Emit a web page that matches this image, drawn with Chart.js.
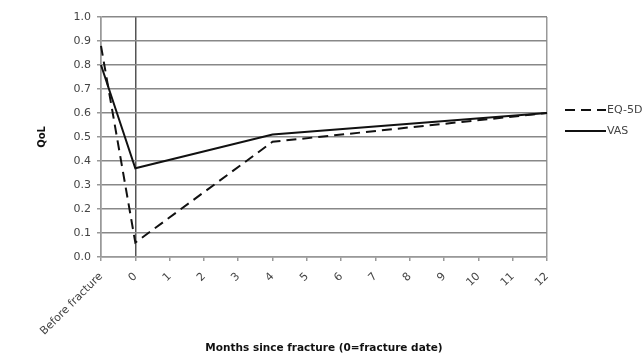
<!DOCTYPE html>
<html>
<head>
<meta charset="utf-8">
<script src="https://cdn.jsdelivr.net/npm/chart.js@4.4.1/dist/chart.umd.min.js"></script>
<style>
  html, body { margin: 0; padding: 0; background: #fff; }
  #wrap { width: 644px; height: 357px; }
</style>
</head>
<body>
<div id="wrap"><canvas id="qolChart" width="644" height="357"></canvas></div>
<script>
// categories along the x axis
const months = ['Before fracture', '0', '1', '2', '3', '4', '5', '6', '7', '8', '9', '10', '11', '12'];
// series values (gaps are joined, measured at before / 0 / 4 / 12 months)
const eq5d = [0.88, 0.06, null, null, null, 0.48, null, null, null, null, null, null, null, 0.60];
const vas  = [0.80, 0.37, null, null, null, 0.51, null, null, null, null, null, null, null, 0.60];
// y tick labels
const yTickLabels = ['0.0', '0.1', '0.2', '0.3', '0.4', '0.5', '0.6', '0.7', '0.8', '0.9', '1.0'];

const FONT = 'DejaVu Sans, Verdana, sans-serif';

// legend drawn at the right of the plot, like the original
const sideLegend = {
  id: 'sideLegend',
  afterDraw(chart) {
    const ctx = chart.ctx;
    const rows = [{ y: 110 }, { y: 131 }];
    ctx.save();
    chart.data.datasets.forEach((ds, i) => {
      const y = rows[i].y;
      ctx.strokeStyle = ds.borderColor;
      ctx.lineWidth = ds.borderWidth;
      ctx.setLineDash(ds.borderDash || []);
      ctx.beginPath();
      ctx.moveTo(565, y);
      ctx.lineTo(606, y);
      ctx.stroke();
      ctx.setLineDash([]);
      ctx.fillStyle = '#444';
      ctx.font = '11px ' + FONT;
      ctx.textBaseline = 'middle';
      ctx.fillText(ds.label, 607, y);
    });
    ctx.restore();
  }
};

new Chart(document.getElementById('qolChart'), {
  type: 'line',
  data: {
    labels: months,
    datasets: [
      {
        label: 'EQ-5D',
        data: eq5d,
        borderColor: '#111',
        borderWidth: 2,
        borderDash: [10, 6],
        pointRadius: 0,
        spanGaps: true,
        tension: 0
      },
      {
        label: 'VAS',
        data: vas,
        borderColor: '#111',
        borderWidth: 2,
        pointRadius: 0,
        spanGaps: true,
        tension: 0
      }
    ]
  },
  options: {
    responsive: false,
    animation: false,
    devicePixelRatio: 1,
    layout: { padding: { top: 17, right: 97, left: 36, bottom: 0 } },
    plugins: {
      legend: { display: false },
      tooltip: { enabled: false }
    },
    scales: {
      x: {
        offset: false,
        afterFit: (s) => { s.height = 100; },
        ticks: {
          autoSkip: false,
          minRotation: 45,
          maxRotation: 45,
          color: '#444',
          font: { family: FONT, size: 11 },
          padding: 9
        },
        grid: {
          color: (c) => c.index === 1 ? '#555' : (c.index === 0 || c.index === 13 ? '#999' : 'rgba(0,0,0,0)'),
          lineWidth: 1.5,
          tickColor: '#999',
          tickLength: 4,
          drawOnChartArea: true
        },
        border: { display: true, color: '#999', width: 1.5 },
        title: {
          display: true,
          text: 'Months since fracture (0=fracture date)',
          color: '#111',
          font: { family: FONT, size: 10.5, weight: 'bold' },
          padding: { top: 0, bottom: 2 }
        }
      },
      y: {
        min: 0,
        max: 1,
        afterFit: (s) => { s.width = 65; },
        ticks: {
          stepSize: 0.1,
          color: '#444',
          font: { family: FONT, size: 11 },
          padding: 6,
          callback: (v, i) => yTickLabels[i]
        },
        grid: {
          color: '#888',
          lineWidth: 1.5,
          tickColor: '#999',
          tickLength: 4
        },
        border: { display: true, color: '#999', width: 1.5 },
        title: {
          display: true,
          text: 'QoL',
          color: '#111',
          font: { family: FONT, size: 10, weight: 'bold' },
          padding: { top: 0, bottom: 0 }
        }
      }
    }
  },
  plugins: [sideLegend]
});
</script>
</body>
</html>
